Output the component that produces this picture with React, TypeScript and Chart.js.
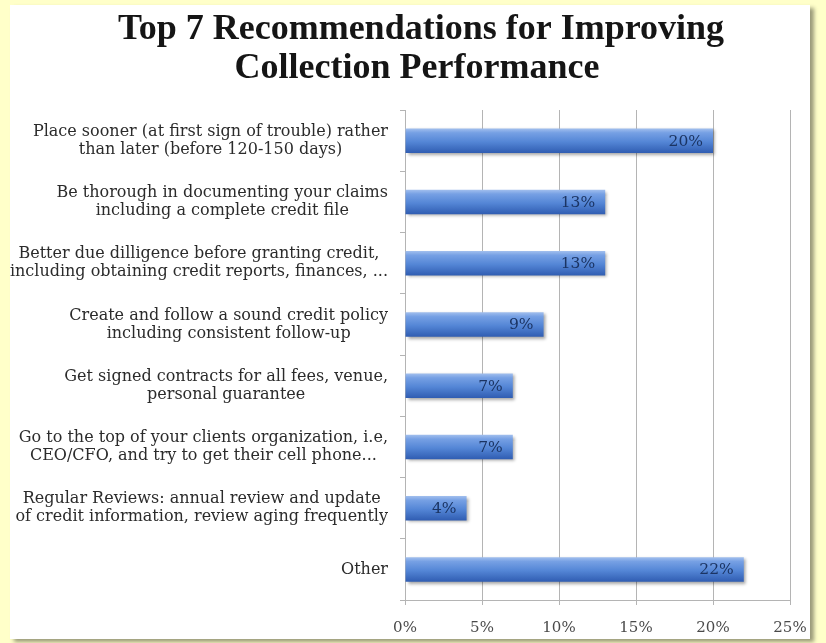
import React, { useEffect, useRef } from "react";
import { Chart, registerables } from "chart.js";

Chart.register(...registerables);

const TITLE_LINES = ["Top 7 Recommendations for Improving", "Collection Performance"];

const CATEGORIES: string[][] = [
  ["Place sooner (at first sign of trouble) rather", "than later (before 120-150 days)"],
  ["Be thorough in documenting your claims", "including a complete credit file"],
  ["Better due dilligence before granting credit,", "including obtaining credit reports, finances, ..."],
  ["Create and follow a sound credit policy", "including consistent follow-up"],
  ["Get signed contracts for all fees, venue,", "personal guarantee"],
  ["Go to the top of your clients organization, i.e,", "CEO/CFO, and try to get their cell phone..."],
  ["Regular Reviews: annual review and update", "of credit information, review aging frequently"],
  ["Other"],
];

const VALUES: number[] = [20, 13, 13, 9, 7, 7, 4, 22];

const X_TICKS: number[] = [0, 5, 10, 15, 20, 25];

const SERIF = "'Liberation Serif', 'DejaVu Serif', serif";
const WIDE_SERIF = "'DejaVu Serif', 'Liberation Serif', serif";

export default function App() {
  const ref = useRef<HTMLCanvasElement | null>(null);

  useEffect(() => {
    document.body.style.margin = "0";
    const canvas = ref.current;
    if (!canvas) return;

    const titlePlugin = {
      id: "titleText",
      afterDraw(chart: any) {
        const ctx = chart.ctx;
        ctx.save();
        ctx.fillStyle = "#151515";
        ctx.font = `bold 36px ${SERIF}`;
        ctx.textAlign = "center";
        ctx.textBaseline = "alphabetic";
        ctx.fillText(TITLE_LINES[0], 421, 39);
        ctx.fillText(TITLE_LINES[1], 417, 78);
        ctx.restore();
      },
    };

    const catLabelPlugin = {
      id: "catLabels",
      afterDraw(chart: any) {
        const ctx = chart.ctx;
        const yScale = chart.scales.y;
        ctx.save();
        ctx.fillStyle = "#2b2b2b";
        ctx.font = `16px ${WIDE_SERIF}`;
        ctx.textAlign = "center";
        ctx.textBaseline = "middle";
        const lh = 18;
        CATEGORIES.forEach((lines, i) => {
          const y = yScale.getPixelForTick(i);
          const maxW = Math.max(...lines.map((l) => ctx.measureText(l).width));
          const cx = 388 - maxW / 2;
          const y0 = y - ((lines.length - 1) * lh) / 2;
          lines.forEach((l, j) => ctx.fillText(l, cx, y0 + j * lh));
        });
        ctx.restore();
      },
    };

    const shadowPlugin = {
      id: "barShadow",
      beforeDatasetsDraw(chart: any) {
        const ctx = chart.ctx;
        ctx.save();
        ctx.shadowColor = "rgba(0,0,0,0.35)";
        ctx.shadowOffsetX = 2;
        ctx.shadowOffsetY = 2;
        ctx.shadowBlur = 3;
      },
      afterDatasetsDraw(chart: any) {
        chart.ctx.restore();
        const ctx = chart.ctx;
        const meta = chart.getDatasetMeta(0);
        ctx.save();
        ctx.fillStyle = "#1b3463";
        ctx.font = `15.5px ${WIDE_SERIF}`;
        ctx.textAlign = "right";
        ctx.textBaseline = "middle";
        meta.data.forEach((bar: any, i: number) => {
          ctx.fillText(`${VALUES[i]}%`, bar.x - 10, bar.y + 1);
        });
        ctx.restore();
      },
    };

    const barFill = (context: any) => {
      const chart = context.chart;
      const yScale = chart.scales.y;
      if (!chart.chartArea || !yScale) return "#5b8ad6";
      const c = yScale.getPixelForValue(context.dataIndex);
      const cat = (yScale.bottom - yScale.top) / CATEGORIES.length;
      const half = (cat * 0.4) / 2;
      const g = chart.ctx.createLinearGradient(0, c - half, 0, c + half);
      g.addColorStop(0, "#a3c0ee");
      g.addColorStop(0.18, "#76a0e4");
      g.addColorStop(0.55, "#5486d6");
      g.addColorStop(1, "#305db2");
      return g;
    };

    const chart = new Chart(canvas, {
      type: "bar",
      data: {
        labels: CATEGORIES,
        datasets: [
          {
            data: VALUES,
            backgroundColor: barFill,
            borderWidth: 0,
            barPercentage: 0.8,
            categoryPercentage: 0.5,
          },
        ],
      },
      options: {
        indexAxis: "y",
        animation: false,
        responsive: false,
        maintainAspectRatio: false,
        layout: { padding: { left: 0, right: 36, top: 110, bottom: 0 } },
        plugins: {
          legend: { display: false },
          title: { display: false },
          tooltip: { enabled: false },
        },
        scales: {
          x: {
            min: 0,
            max: 25,
            afterBuildTicks(scale: any) {
              scale.ticks = X_TICKS.map((v) => ({ value: v }));
            },
            afterFit(scale: any) {
              scale.height = 43;
            },
            grid: {
              color: "#b4b4b4",
              lineWidth: 1,
              drawTicks: true,
              tickLength: 5,
            },
            border: { display: true, color: "#b4b4b4" },
            ticks: {
              color: "#4a4a4a",
              font: { family: WIDE_SERIF, size: 15 },
              padding: 14,
              callback: (v: any) => `${v}%`,
            },
          },
          y: {
            afterFit(scale: any) {
              scale.width = 405;
            },
            grid: {
              drawOnChartArea: false,
              drawTicks: true,
              tickLength: 5,
              color: "#b4b4b4",
              offset: true,
            },
            border: { display: true, color: "#b4b4b4" },
            ticks: { display: false },
          },
        },
      },
      plugins: [titlePlugin, catLabelPlugin, shadowPlugin],
    });

    return () => chart.destroy();
  }, []);

  return (
    <div
      style={{
        position: "fixed",
        left: 0,
        top: 0,
        width: 826,
        height: 643,
        background: "#ffffc9",
        overflow: "hidden",
      }}
    >
      <div
        style={{
          position: "absolute",
          left: 10,
          top: 5,
          width: 800,
          height: 634,
          background: "#ffffff",
          boxShadow: "4px 3px 4px rgba(0,0,0,0.4)",
        }}
      />
      <canvas
        ref={ref}
        width={826}
        height={643}
        style={{ position: "absolute", left: 0, top: 0, width: 826, height: 643 }}
      />
    </div>
  );
}
